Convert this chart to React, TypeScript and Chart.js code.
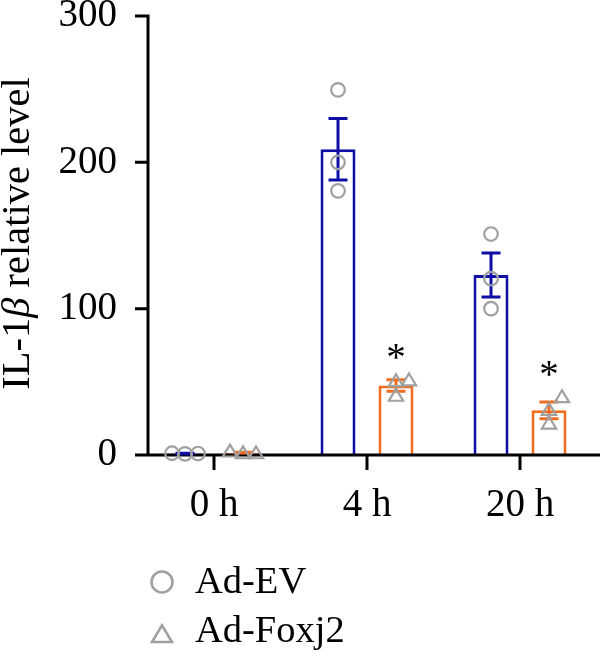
import React, { useEffect, useRef } from 'react';
import { Chart, registerables } from 'chart.js';

Chart.register(...registerables);

// ---- data ----
const timePoints = ['0 h', '4 h', '20 h'];
const seriesNames = ['Ad-EV', 'Ad-Foxj2'];
const evMean = [1, 209, 123];
const evSem = [0.2, 21, 15];
const foxMean = [1.6, 47.5, 30.5];
const foxSem = [0.3, 4, 5.8];
const evPoints = [
  [0.8, 1.0, 1.2],
  [249.5, 200, 180.5],
  [151, 120.5, 100],
];
const foxPoints = [
  [1.2, 2.4, 1.2],
  [50.5, 40.5, 51],
  [39.5, 30.8, 21.5],
];
const foxSignificance = ['', '*', '*'];
const yTicks = [0, 100, 200, 300];

// ---- styles ----
const FONT = '"Liberation Serif", "Times New Roman", serif';
const TICK_SIZE = 39;
const TITLE_SIZE = 40.5;
const LEGEND_SIZE = 38.5;
const BLUE = '#0e0ea6';
const ORANGE = '#f06c1e';
const GRAY = '#a0a0a0';
const AXIS_W = 3;

type Shape = 'circle' | 'triangle';

function drawMarker(ctx: CanvasRenderingContext2D, shape: Shape, x: number, y: number, size: number) {
  ctx.beginPath();
  if (shape === 'circle') {
    ctx.arc(x, y, size, 0, Math.PI * 2);
  } else {
    const h = size * 1.75;
    const w = size * 2.1;
    ctx.moveTo(x, y - h * 0.58);
    ctx.lineTo(x + w / 2, y + h * 0.42);
    ctx.lineTo(x - w / 2, y + h * 0.42);
    ctx.closePath();
  }
  ctx.stroke();
}

// spread overlapping replicate points sideways
function swarm(pixels: number[], minDist: number, step: number): number[] {
  const order = pixels.map((p, i) => i).sort((a, b) => pixels[b] - pixels[a]);
  const placed: { dx: number; y: number }[] = [];
  const out: number[] = new Array(pixels.length).fill(0);
  const tries = [0, 1, -1, 2, -2, 3, -3];
  for (const i of order) {
    const py = pixels[i];
    for (const t of tries) {
      const dx = t * step;
      const ok = placed.every((p) => Math.hypot(p.dx - dx, p.y - py) >= minDist);
      if (ok) {
        out[i] = dx;
        placed.push({ dx, y: py });
        break;
      }
    }
  }
  return out;
}

const series = [
  { mean: evMean, sem: evSem, points: evPoints, color: BLUE, shape: 'circle' as Shape },
  { mean: foxMean, sem: foxSem, points: foxPoints, color: ORANGE, shape: 'triangle' as Shape },
];

const overlayPlugin = {
  id: 'overlay',
  afterDatasetsDraw(chart: any) {
    const { ctx, chartArea, scales } = chart;
    const xs = scales.x;
    const ys = scales.y;
    const y0 = ys.getPixelForValue(0);
    const yAxisX = chartArea.left + 10.5;
    const tickLen = 13;

    ctx.save();
    ctx.lineCap = 'butt';

    // axes
    ctx.strokeStyle = '#000';
    ctx.lineWidth = AXIS_W;
    ctx.beginPath();
    ctx.moveTo(yAxisX, ys.getPixelForValue(yTicks[yTicks.length - 1]));
    ctx.lineTo(yAxisX, y0);
    ctx.moveTo(yAxisX - tickLen, y0);
    ctx.lineTo(chart.width, y0);
    for (const v of yTicks) {
      const py = ys.getPixelForValue(v);
      ctx.moveTo(yAxisX - tickLen, py);
      ctx.lineTo(yAxisX + AXIS_W / 2, py);
    }
    timePoints.forEach((_, i) => {
      const px = xs.getPixelForValue(i);
      ctx.moveTo(px, y0);
      ctx.lineTo(px, y0 + 15);
    });
    ctx.stroke();

    // error bars (mean ± SEM)
    series.forEach((s, d) => {
      const meta = chart.getDatasetMeta(d);
      ctx.strokeStyle = s.color;
      ctx.lineWidth = 3;
      s.mean.forEach((m, i) => {
        const cx = meta.data[i].x;
        const top = ys.getPixelForValue(m + s.sem[i]);
        const bot = ys.getPixelForValue(m - s.sem[i]);
        const cap = 9.5;
        ctx.beginPath();
        ctx.moveTo(cx, top);
        ctx.lineTo(cx, bot);
        ctx.moveTo(cx - cap, top);
        ctx.lineTo(cx + cap, top);
        ctx.moveTo(cx - cap, bot);
        ctx.lineTo(cx + cap, bot);
        ctx.stroke();
      });
    });

    // replicate points
    ctx.strokeStyle = GRAY;
    ctx.lineWidth = 2.2;
    const topMost: number[][] = [[], []];
    series.forEach((s, d) => {
      const meta = chart.getDatasetMeta(d);
      s.points.forEach((vals, i) => {
        const cx = meta.data[i].x;
        const pys = vals.map((v) => ys.getPixelForValue(v));
        const dxs = swarm(pys, 13, 13);
        pys.forEach((py, k) => drawMarker(ctx, s.shape, cx + dxs[k], py, 6.8));
        const errTop = ys.getPixelForValue(s.mean[i] + s.sem[i]);
        topMost[d][i] = Math.min(errTop, Math.min(...pys) - 7);
      });
    });

    // significance marks
    ctx.fillStyle = '#000';
    ctx.font = `${TICK_SIZE}px ${FONT}`;
    ctx.textAlign = 'center';
    ctx.textBaseline = 'alphabetic';
    const foxMeta = chart.getDatasetMeta(1);
    foxSignificance.forEach((mark, i) => {
      if (!mark) return;
      const cx = foxMeta.data[i].x;
      const centerY = topMost[1][i] - 21;
      ctx.fillText(mark, cx, centerY + 18);
    });

    // y-axis title with italic beta
    const parts = [
      { text: 'IL-1', italic: false },
      { text: 'β', italic: true },
      { text: ' relative level', italic: false },
    ];
    const fontFor = (it: boolean) => `${it ? 'italic ' : ''}${TITLE_SIZE}px ${FONT}`;
    let total = 0;
    const widths = parts.map((p) => {
      ctx.font = fontFor(p.italic);
      const w = ctx.measureText(p.text).width;
      total += w;
      return w;
    });
    ctx.save();
    ctx.translate(29, (chartArea.top + chartArea.bottom) / 2 - 2);
    ctx.rotate(-Math.PI / 2);
    ctx.textAlign = 'left';
    let pos = -total / 2;
    parts.forEach((p, k) => {
      ctx.font = fontFor(p.italic);
      ctx.fillText(p.text, pos, 0);
      pos += widths[k];
    });
    ctx.restore();

    // legend
    const legendRows = [593, 642];
    seriesNames.forEach((name, d) => {
      const base = legendRows[d];
      ctx.strokeStyle = GRAY;
      ctx.lineWidth = 2.6;
      if (series[d].shape === 'circle') drawMarker(ctx, 'circle', 162, base - 11, 10.5);
      else drawMarker(ctx, 'triangle', 162, base - 7, 9.5);
      ctx.fillStyle = '#000';
      ctx.font = `${LEGEND_SIZE}px ${FONT}`;
      ctx.textAlign = 'left';
      ctx.fillText(name, 195, base);
    });

    ctx.restore();
  },
};

export default function App() {
  const ref = useRef<HTMLCanvasElement>(null);

  useEffect(() => {
    document.body.style.margin = '0';
    const chart = new Chart(ref.current as HTMLCanvasElement, {
      type: 'bar',
      data: {
        labels: timePoints,
        datasets: series.map((s, d) => ({
          label: seriesNames[d],
          data: s.mean,
          backgroundColor: '#ffffff',
          borderColor: s.color,
          borderWidth: 3,
          borderSkipped: 'start',
          categoryPercentage: 0.758,
          barPercentage: 0.603,
        })),
      },
      options: {
        animation: false,
        responsive: false,
        layout: { padding: { left: 0, right: 3.5, top: 16, bottom: 133 } },
        plugins: {
          legend: { display: false },
          tooltip: { enabled: false },
        },
        scales: {
          x: {
            type: 'category',
            offset: true,
            grid: { display: false, drawTicks: false },
            border: { display: false },
            ticks: {
              color: '#000',
              padding: 27,
              maxRotation: 0,
              font: { family: FONT, size: TICK_SIZE },
            },
            afterFit(scale: any) {
              scale.height = 70;
              scale.paddingLeft = 0;
              scale.paddingRight = 0;
            },
          },
          y: {
            min: 0,
            max: 300,
            grid: { display: false, drawTicks: false },
            border: { display: false },
            afterBuildTicks(scale: any) {
              scale.ticks = yTicks.map((v) => ({ value: v }));
            },
            ticks: {
              color: '#000',
              padding: 20.5,
              font: { family: FONT, size: TICK_SIZE },
            },
            afterFit(scale: any) {
              scale.width = 137.5;
              scale.paddingTop = 0;
              scale.paddingBottom = 0;
            },
          },
        },
      } as any,
      plugins: [overlayPlugin],
    });
    return () => chart.destroy();
  }, []);

  return (
    <div style={{ width: 600, height: 658 }}>
      <canvas ref={ref} width={600} height={658} style={{ display: 'block' }} />
    </div>
  );
}
